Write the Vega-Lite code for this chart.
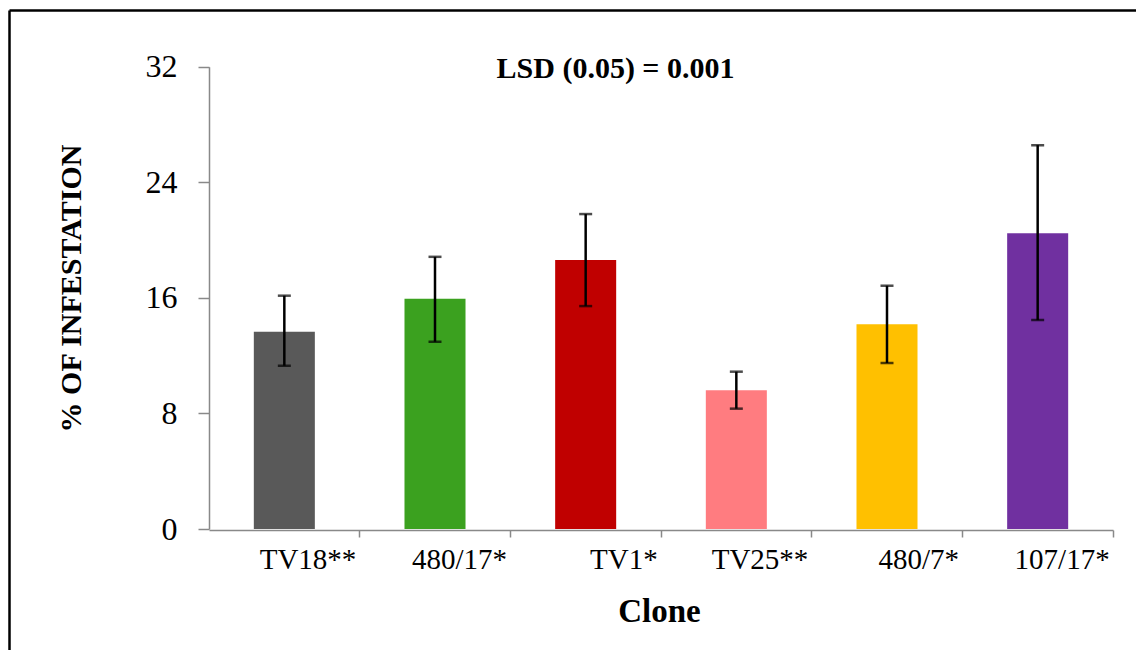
{
  "$schema": "https://vega.github.io/schema/vega-lite/v6.json",
  "autosize": {"type": "none"},
  "padding": {"left": 9, "top": 10, "right": 0, "bottom": 0},
  "width": 1127,
  "height": 640,
  "background": "white",
  "config": {
    "view": {"stroke": null},
    "font": "Liberation Serif",
    "axis": {
      "labelFont": "Liberation Serif",
      "labelColor": "black",
      "titleFont": "Liberation Serif",
      "titleColor": "black",
      "titleFontWeight": "bold",
      "grid": false
    },
    "axisX": {"labelFont": "Liberation Serif"},
    "axisBand": {"labelFont": "Liberation Serif"},
    "style": {"guide-label": {"font": "Liberation Serif"}, "guide-title": {"font": "Liberation Serif"}}
  },
  "title": {
    "text": "LSD (0.05) = 0.001",
    "font": "Liberation Serif",
    "fontSize": 30,
    "fontWeight": "bold",
    "color": "black",
    "frame": "group",
    "anchor": "middle",
    "baseline": "alphabetic",
    "dx": 43,
    "offset": -98
  },
  "data": {
    "values": [
      {"clone": "TV18**", "mean": 13.65, "lo": 11.30, "hi": 16.15},
      {"clone": "480/17*", "mean": 15.94, "lo": 12.96, "hi": 18.84},
      {"clone": "TV1*", "mean": 18.62, "lo": 15.43, "hi": 21.80},
      {"clone": "TV25**", "mean": 9.60, "lo": 8.33, "hi": 10.89},
      {"clone": "480/7*", "mean": 14.17, "lo": 11.49, "hi": 16.84},
      {"clone": "107/17*", "mean": 20.48, "lo": 14.46, "hi": 26.57}
    ]
  },
  "layer": [
    {
      "encoding": {
        "x": {
          "field": "clone",
          "type": "nominal",
          "sort": null,
          "title": "Clone",
          "scale": {"range": [200, 1104], "paddingInner": 0.595, "paddingOuter": 0.2975},
          "axis": {
            "orient": "bottom",
            "offset": -120,
            "title": "Clone",
            "titleFont": "Liberation Serif",
            "titleFontSize": 33,
            "titleFontWeight": "bold",
            "titleColor": "black",
            "titleX": 650,
            "titleY": 91,
            "titleBaseline": "alphabetic",
            "titleAlign": "center",
            "domainColor": "#898989",
            "domainWidth": 1.5,
            "tickColor": "#898989",
            "tickWidth": 1.5,
            "tickSize": 7,
            "bandPosition": 1.735,
            "labelAngle": 0,
            "labelAlign": "right",
            "labelOffset": 72,
            "labelPadding": 8,
            "labelFont": "Liberation Serif",
            "labelFontSize": 29,
            "labelColor": "black",
            "grid": false
          }
        }
      },
      "layer": [
        {
          "mark": {"type": "bar"},
          "encoding": {
            "y": {
              "field": "mean",
              "type": "quantitative",
              "title": "% OF INFESTATION",
              "scale": {"domain": [0, 32], "range": [519, 56.7], "nice": false, "zero": true},
              "axis": {
                "orient": "left",
                "offset": -200,
                "values": [0, 8, 16, 24, 32],
                "title": "% OF INFESTATION",
                "titleFont": "Liberation Serif",
                "titleFontSize": 30,
                "titleFontWeight": "bold",
                "titleColor": "black",
                "titleAngle": -90,
                "titleX": -138,
                "titleY": 278,
                "titleAlign": "center",
                "titleBaseline": "middle",
                "domainColor": "#898989",
                "domainWidth": 1.5,
                "tickColor": "#898989",
                "tickWidth": 1.5,
                "tickSize": 11,
                "labelPadding": 21,
                "labelFont": "Liberation Serif",
                "labelFontSize": 32,
                "labelColor": "black",
                "grid": false
              }
            },
            "color": {
              "field": "clone",
              "type": "nominal",
              "legend": null,
              "scale": {
                "domain": ["TV18**", "480/17*", "TV1*", "TV25**", "480/7*", "107/17*"],
                "range": ["#595959", "#3BA11F", "#C00000", "#FF7C80", "#FFC000", "#7030A0"]
              }
            }
          }
        },
        {
          "mark": {"type": "errorbar", "ticks": {"size": 13}, "color": "black", "thickness": 2.5},
          "encoding": {
            "y": {"field": "lo", "type": "quantitative", "title": "% OF INFESTATION"},
            "y2": {"field": "hi"}
          }
        }
      ]
    },
    {
      "mark": {"type": "point", "opacity": 0, "size": 0},
      "encoding": {
        "x": {
          "field": "mean",
          "type": "quantitative",
          "scale": {"domain": [0, 32], "range": [0, 1127], "nice": false},
          "axis": {"orient": "top", "offset": 0, "domain": true, "domainColor": "black", "domainWidth": 2.5, "ticks": false, "labels": false, "grid": false, "title": null}
        },
        "y": {
          "field": "mean",
          "type": "quantitative",
          "scale": {"domain": [0, 32], "range": [640, 0], "nice": false},
          "axis": {"orient": "left", "offset": 0, "domain": true, "domainColor": "black", "domainWidth": 2.5, "ticks": false, "labels": false, "grid": false, "title": null}
        }
      }
    }
  ],
  "resolve": {
    "scale": {"x": "independent", "y": "independent", "color": "independent"},
    "axis": {"x": "independent", "y": "independent"}
  }
}
